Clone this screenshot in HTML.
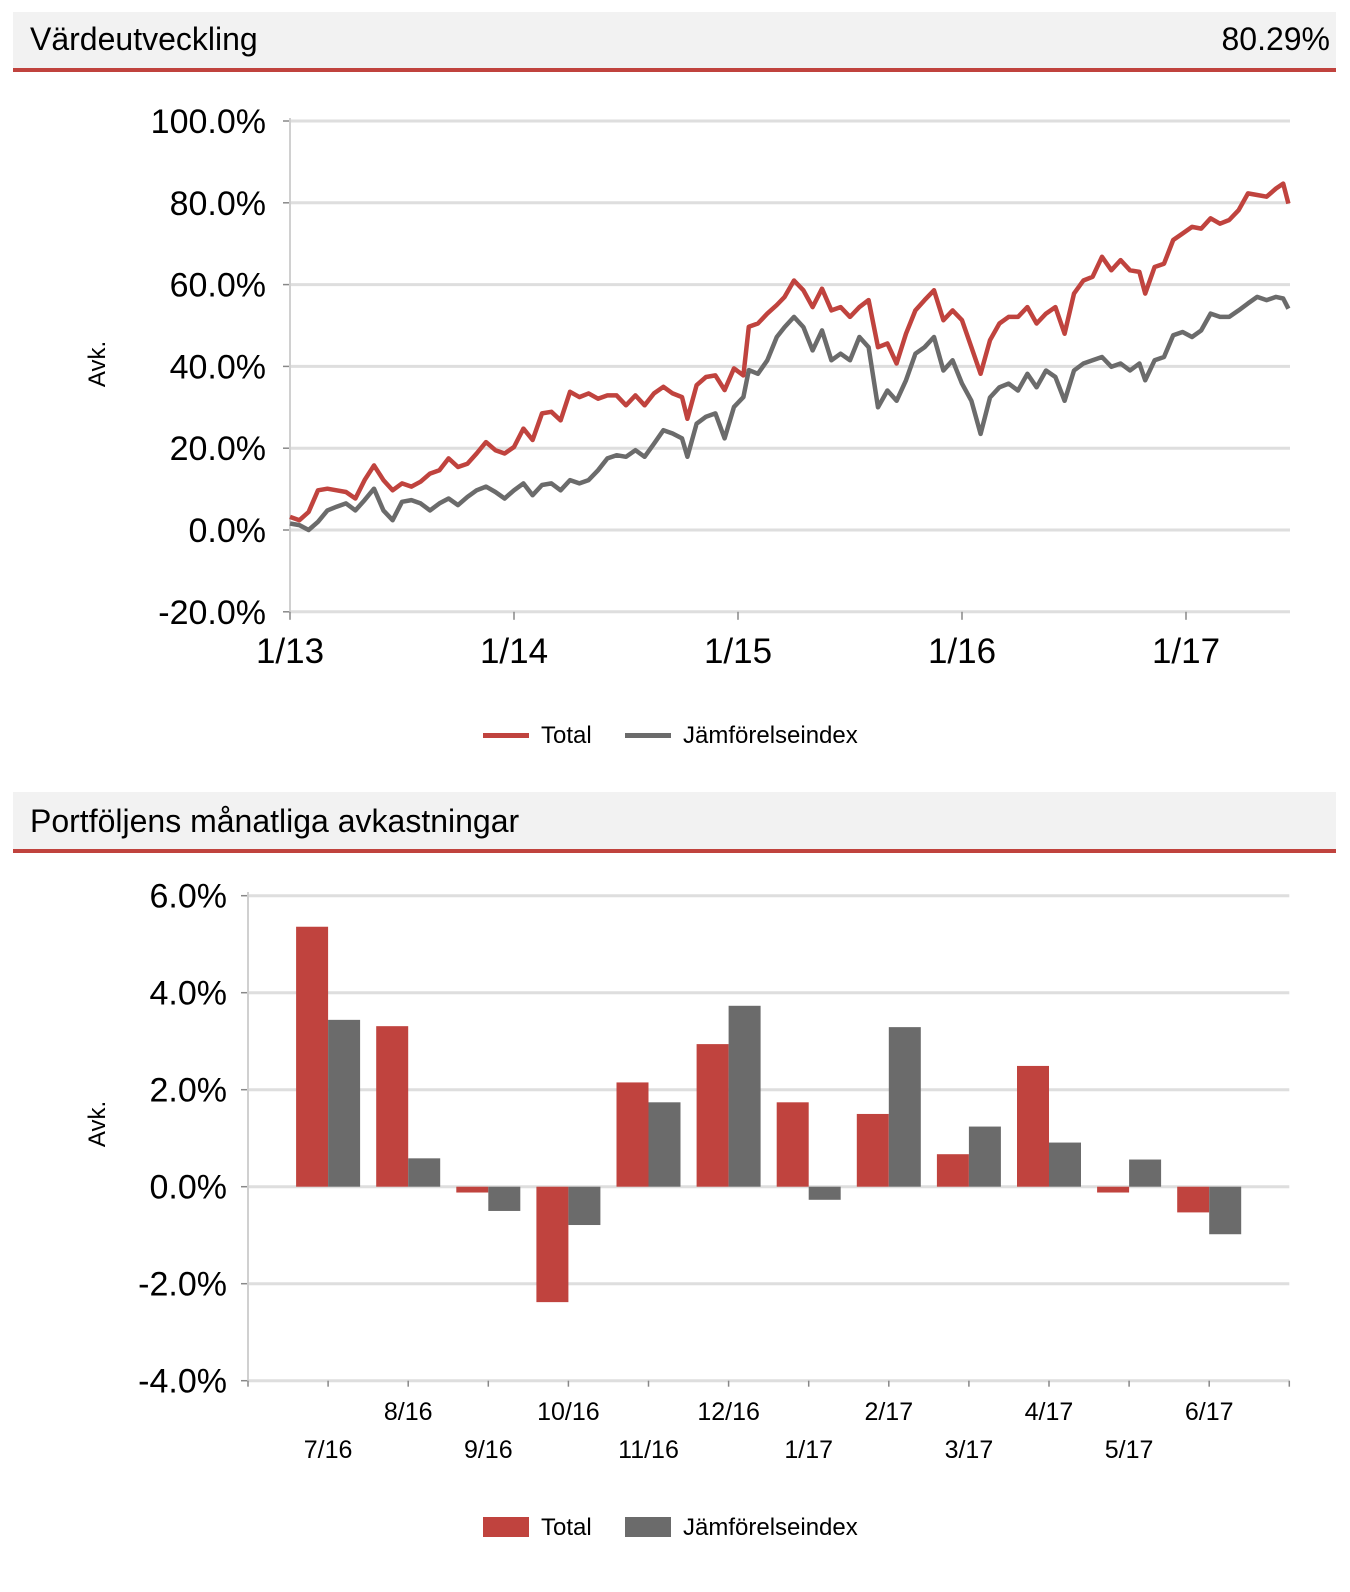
<!DOCTYPE html>
<html><head><meta charset="utf-8"><style>
html,body{margin:0;padding:0;background:#fff;}
svg{display:block;font-family:"Liberation Sans",Arial,sans-serif;}
</style></head><body>
<svg id="root" width="1350" height="1592" viewBox="0 0 1350 1592" xmlns="http://www.w3.org/2000/svg">
 <g>
  <rect x="13" y="12" width="1323" height="57" fill="#f2f2f2"/>
  <rect x="13" y="68" width="1323" height="4" fill="#c0433e"/>
  <text x="30" y="50" font-size="32" fill="#000">Värdeutveckling</text>
  <text x="1330" y="50" font-size="32" fill="#000" text-anchor="end">80.29%</text>
 </g>
 <g id="lineChart"></g>
 <g>
  <rect x="13" y="792" width="1323" height="58" fill="#f2f2f2"/>
  <rect x="13" y="849" width="1323" height="4" fill="#c0433e"/>
  <text x="30" y="832" font-size="32" fill="#000">Portföljens månatliga avkastningar</text>
 </g>
 <g id="barChart"></g>
</svg>
<script>
// ---- line chart data ----
const lineTimes = [0,.042,.083,.125,.167,.208,.25,.292,.333,.375,.417,.458,.5,.542,.583,.625,.667,.708,.75,.792,.833,.875,.917,.958,1.0,1.042,1.083,1.125,1.167,1.208,1.25,1.292,1.333,1.375,1.417,1.458,1.5,1.542,1.583,1.625,1.667,1.708,1.75,1.774,1.815,1.857,1.899,1.94,1.982,2.024,2.048,2.089,2.131,2.173,
2.208,2.25,2.292,2.333,2.375,2.417,2.458,2.5,2.542,2.583,2.625,2.667,2.708,2.75,2.792,2.833,2.875,2.917,2.958,3.0,3.042,3.083,3.125,3.167,3.208,3.25,3.292,3.333,3.375,3.417,3.458,3.5,3.542,3.583,3.625,3.667,3.708,3.75,3.792,
3.818,3.86,3.902,3.943,3.985,4.027,4.068,4.11,4.152,4.193,4.235,4.277,4.318,4.36,4.402,4.434,4.457];
const totalSeries = [3.2,2.4,4.4,9.7,10.1,9.7,9.3,7.7,12.2,15.8,12.2,9.7,11.4,10.6,11.8,13.8,14.6,17.5,15.4,16.2,18.7,21.5,19.5,18.7,20.3,24.8,22,28.5,28.9,26.8,33.8,32.5,33.4,32.1,32.9,32.9,30.5,32.9,30.5,33.4,35,33.4,32.5,27.2,35.4,37.4,37.8,34.2,39.5,37.8,49.7,50.5,52.9,55,
57,61,58.6,54.5,59,53.7,54.5,52.1,54.5,56.2,44.7,45.6,40.7,48,53.7,56.2,58.6,51.3,53.7,51.3,44.7,38.2,46.4,50.5,52.1,52.1,54.5,50.5,52.9,54.5,48,57.8,61,61.9,66.8,63.5,66,63.5,63.1,
57.8,64.3,65.1,70.9,72.5,74.1,73.7,76.2,74.9,75.8,78.2,82.3,81.9,81.5,83.5,84.7,79.8];
const benchSeries = [1.6,1.2,0,2,4.8,5.7,6.5,4.8,7.3,10.1,4.8,2.4,6.9,7.3,6.5,4.8,6.5,7.7,6.1,8.1,9.7,10.6,9.3,7.7,9.7,11.4,8.5,11,11.4,9.7,12.2,11.4,12.2,14.6,17.5,18.3,17.9,19.5,17.9,21.1,24.4,23.6,22.4,17.9,26,27.7,28.5,22.4,30.1,32.5,39.1,38.2,41.5,47.2,
49.6,52.1,49.6,43.9,48.8,41.5,43.1,41.5,47.2,44.7,30,34.1,31.6,36.6,43.1,44.7,47.2,39,41.5,35.8,31.6,23.5,32.4,34.9,35.8,34.1,38.2,34.9,39,37.4,31.6,39,40.7,41.5,42.3,39.9,40.7,39,40.7,
36.6,41.5,42.3,47.6,48.4,47.2,48.8,52.9,52.1,52.1,53.7,55.4,57,56.2,57,56.6,54.1];
const lineYTicks = [100,80,60,40,20,0,-20];
const lineYTickLabels = ["100.0%","80.0%","60.0%","40.0%","20.0%","0.0%","-20.0%"];
const lineXTicks = [0,1,2,3,4];
const lineXTickLabels = ["1/13","1/14","1/15","1/16","1/17"];

// ---- bar chart data ----
const months = ["7/16","8/16","9/16","10/16","11/16","12/16","1/17","2/17","3/17","4/17","5/17","6/17"];
const totalMonthly = [5.36,3.31,-0.12,-2.38,2.15,2.94,1.74,1.50,0.67,2.49,-0.12,-0.53];
const benchMonthly = [3.44,0.585,-0.5,-0.79,1.74,3.73,-0.27,3.29,1.24,0.91,0.56,-0.98];
const barYTicks = [6,4,2,0,-2,-4];
const barYTickLabels = ["6.0%","4.0%","2.0%","0.0%","-2.0%","-4.0%"];

const NS = "http://www.w3.org/2000/svg";
function mk(tag, attrs, parent){const e=document.createElementNS(NS,tag);for(const k in attrs)e.setAttribute(k,attrs[k]);parent.appendChild(e);return e;}
const RED="#c0433e", GRAY="#6b6b6b";

// line chart
(function(){
 const g=document.getElementById("lineChart");
 const X0=290,X1=1290,YEAR=224;
 const xs=t=>X0+t*YEAR;
 const ys=v=>121+(100-v)*4.09;
 lineYTicks.forEach((v,i)=>{
  const gl=mk("line",{x1:X0,x2:X1,y1:ys(v),y2:ys(v),stroke:"#dedede","stroke-width":3},g);
  
  
  const tk=mk("line",{x1:X0-7,x2:X0,y1:ys(v),y2:ys(v),stroke:"#888","stroke-width":1.5},g);
  
  
  const tx=mk("text",{x:266,y:ys(v)+12,"font-size":34,"text-anchor":"end",fill:"#000"},g);
  tx.textContent=lineYTickLabels[i];
  
  
 });
 const ax=mk("line",{x1:X0,x2:X0,y1:118,y2:ys(-20),stroke:"#d0d0d0","stroke-width":2},g);
 
 
 lineXTicks.forEach((t,i)=>{
  const tk=mk("line",{x1:xs(t),x2:xs(t),y1:ys(-20),y2:ys(-20)+8,stroke:"#888","stroke-width":1.5},g);
  
  
  const tx=mk("text",{x:xs(t),y:663,"font-size":35,"text-anchor":"middle",fill:"#000"},g);
  tx.textContent=lineXTickLabels[i];
  
  
 });
 const yt=mk("text",{x:0,y:0,"font-size":24,"text-anchor":"middle",fill:"#000",transform:"translate(105,364) rotate(-90)"},g);
 yt.textContent="Avk.";
 
 
 function path(arr){return arr.map((v,i)=>(i?"L":"M")+xs(lineTimes[i]).toFixed(1)+","+ys(v).toFixed(1)).join("");}
 const pb=mk("path",{d:path(benchSeries),fill:"none",stroke:GRAY,"stroke-width":4.5,"stroke-linejoin":"round"},g);
 
 
 const pt=mk("path",{d:path(totalSeries),fill:"none",stroke:RED,"stroke-width":4.5,"stroke-linejoin":"round"},g);
 
 
 const l1=mk("rect",{x:483,y:733,width:46,height:5,fill:RED},g);
 
 
 const t1=mk("text",{x:541,y:743,"font-size":24,fill:"#000"},g);t1.textContent="Total";
 
 
 const l2=mk("rect",{x:625,y:733,width:46,height:5,fill:GRAY},g);
 
 
 const t2=mk("text",{x:683,y:743,"font-size":24,fill:"#000"},g);t2.textContent="Jämförelseindex";
 
 
})();

// bar chart
(function(){
 const g=document.getElementById("barChart");
 const X0=248,STEP=80.1,X1=X0+STEP*(months.length+1),BW=32;
 const ys=v=>1186.7-v*48.5;
 const cx=i=>X0+STEP*(i+1);
 barYTicks.forEach((v,i)=>{
  const gl=mk("line",{x1:X0,x2:X1,y1:ys(v),y2:ys(v),stroke:"#dedede","stroke-width":3},g);
  
  
  const tk=mk("line",{x1:X0-7,x2:X0,y1:ys(v),y2:ys(v),stroke:"#888","stroke-width":1.5},g);
  
  
  const tx=mk("text",{x:227,y:ys(v)+12,"font-size":34,"text-anchor":"end",fill:"#000"},g);
  tx.textContent=barYTickLabels[i];
  
  
 });
 const ax=mk("line",{x1:X0,x2:X0,y1:892,y2:ys(-4),stroke:"#d0d0d0","stroke-width":2},g);
 
 
 for(let i=0;i<=months.length+1;i++){
  const x=X0+STEP*i;
  const tk=mk("line",{x1:x,x2:x,y1:ys(-4),y2:ys(-4)+6,stroke:"#888","stroke-width":1.5},g);
  
  
 }
 months.forEach((m,i)=>{
  const tx=mk("text",{x:cx(i),y:(i%2===0)?1458:1420,"font-size":25,"text-anchor":"middle",fill:"#000"},g);
  tx.textContent=m;
  
  
  const v1=totalMonthly[i],v2=benchMonthly[i];
  const r1=mk("rect",{x:cx(i)-BW,y:Math.min(ys(v1),ys(0)),width:BW,height:Math.abs(ys(v1)-ys(0)),fill:RED},g);
  
  
  const r2=mk("rect",{x:cx(i),y:Math.min(ys(v2),ys(0)),width:BW,height:Math.abs(ys(v2)-ys(0)),fill:GRAY},g);
  
  
 });
 const yt=mk("text",{x:0,y:0,"font-size":24,"text-anchor":"middle",fill:"#000",transform:"translate(105,1124) rotate(-90)"},g);
 yt.textContent="Avk.";
 
 
 const l1=mk("rect",{x:483,y:1517,width:46,height:20,fill:RED},g);
 
 
 const t1=mk("text",{x:541,y:1535,"font-size":24,fill:"#000"},g);t1.textContent="Total";
 
 
 const l2=mk("rect",{x:625,y:1517,width:46,height:20,fill:GRAY},g);
 
 
 const t2=mk("text",{x:683,y:1535,"font-size":24,fill:"#000"},g);t2.textContent="Jämförelseindex";
 
 
})();
</script>
</body></html>
